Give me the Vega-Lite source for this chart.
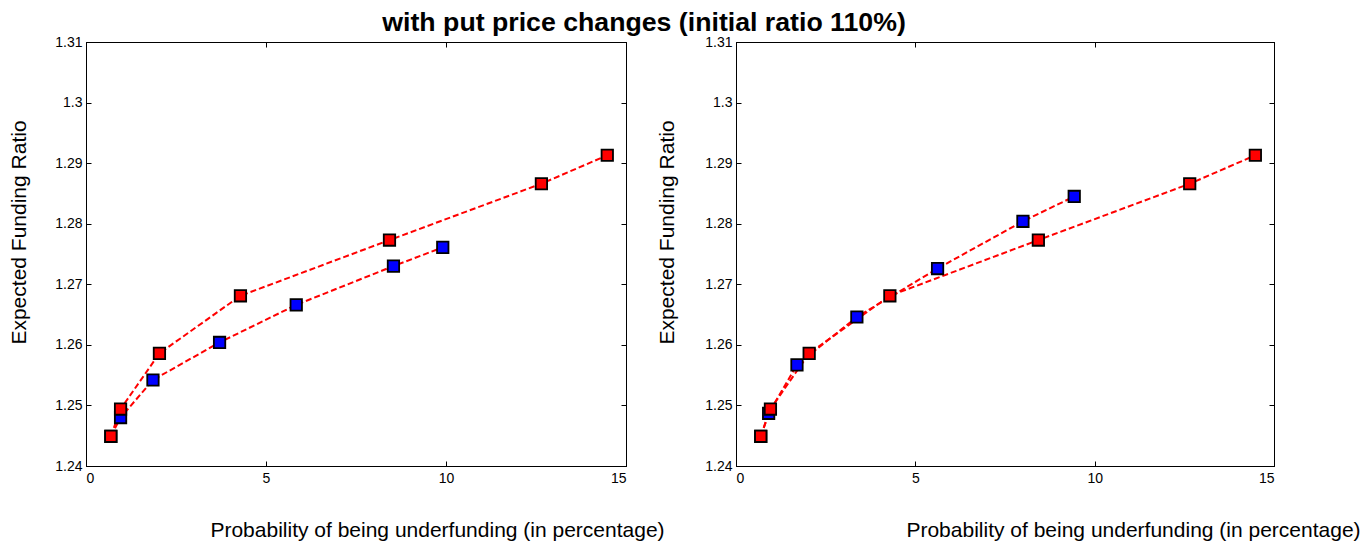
{
  "$schema": "https://vega.github.io/schema/vega-lite/v6.json",
  "autosize": {"type": "pad"},
  "padding": {"left": 7, "top": 9, "right": 0, "bottom": 0},
  "bounds": "flush",
  "spacing": 110,
  "background": "white",
  "title": {"text": "with put price changes (initial ratio 110%)", "font": "Liberation Sans", "fontSize": 26.7, "fontWeight": "bold", "color": "black", "anchor": "middle", "dx": -40, "offset": -2},
  "config": {
    "view": {"stroke": "black", "strokeWidth": 1},
    "axis": {"grid": false, "domainColor": "black", "tickColor": "black", "labelColor": "black", "titleColor": "black", "labelFont": "Liberation Sans", "titleFont": "Liberation Sans", "titleFontWeight": "normal"}
  },
  "datasets": {
    "pts": [
      {"panel": "L", "series": "blue", "idx": 1, "x": 0.69, "y": 1.2449},
      {"panel": "L", "series": "blue", "idx": 2, "x": 0.96, "y": 1.2480},
      {"panel": "L", "series": "blue", "idx": 3, "x": 1.86, "y": 1.2542},
      {"panel": "L", "series": "blue", "idx": 4, "x": 3.71, "y": 1.2604},
      {"panel": "L", "series": "blue", "idx": 5, "x": 5.84, "y": 1.2666},
      {"panel": "L", "series": "blue", "idx": 6, "x": 8.54, "y": 1.2730},
      {"panel": "L", "series": "blue", "idx": 7, "x": 9.91, "y": 1.2761},
      {"panel": "L", "series": "red", "idx": 1, "x": 0.69, "y": 1.2449},
      {"panel": "L", "series": "red", "idx": 2, "x": 0.96, "y": 1.2494},
      {"panel": "L", "series": "red", "idx": 3, "x": 2.04, "y": 1.2586},
      {"panel": "L", "series": "red", "idx": 4, "x": 4.29, "y": 1.2681},
      {"panel": "L", "series": "red", "idx": 5, "x": 8.43, "y": 1.2773},
      {"panel": "L", "series": "red", "idx": 6, "x": 12.65, "y": 1.2866},
      {"panel": "L", "series": "red", "idx": 7, "x": 14.48, "y": 1.2913},
      {"panel": "R", "series": "blue", "idx": 1, "x": 0.69, "y": 1.2449},
      {"panel": "R", "series": "blue", "idx": 2, "x": 0.91, "y": 1.2487},
      {"panel": "R", "series": "blue", "idx": 3, "x": 1.70, "y": 1.2567},
      {"panel": "R", "series": "blue", "idx": 4, "x": 3.37, "y": 1.2646},
      {"panel": "R", "series": "blue", "idx": 5, "x": 5.62, "y": 1.2726},
      {"panel": "R", "series": "blue", "idx": 6, "x": 8.00, "y": 1.2804},
      {"panel": "R", "series": "blue", "idx": 7, "x": 9.43, "y": 1.2845},
      {"panel": "R", "series": "red", "idx": 1, "x": 0.69, "y": 1.2449},
      {"panel": "R", "series": "red", "idx": 2, "x": 0.96, "y": 1.2494},
      {"panel": "R", "series": "red", "idx": 3, "x": 2.04, "y": 1.2586},
      {"panel": "R", "series": "red", "idx": 4, "x": 4.29, "y": 1.2681},
      {"panel": "R", "series": "red", "idx": 5, "x": 8.43, "y": 1.2773},
      {"panel": "R", "series": "red", "idx": 6, "x": 12.65, "y": 1.2866},
      {"panel": "R", "series": "red", "idx": 7, "x": 14.48, "y": 1.2913}
    ]
  },
  "hconcat": [
    {
      "width": 540,
      "height": 424,
      "data": {"name": "pts"},
      "transform": [{"filter": "datum.panel == 'L'"}],
      "resolve": {"axis": {"x": "independent", "y": "independent"}},
      "layer": [
        {
          "mark": {"type": "line", "color": "#ff0000", "strokeWidth": 2, "strokeDash": [6, 3]},
          "encoding": {
            "x": {"field": "x", "type": "quantitative", "scale": {"domain": [0, 15], "nice": false}, "axis": {"orient": "bottom", "values": [0, 5, 10, 15], "format": "d", "tickSize": -5, "labelPadding": 10, "labelFontSize": 14, "title": "Probability of being underfunding (in percentage)", "titleFontSize": 21, "titleX": 351, "titleY": 70, "titleBaseline": "alphabetic"}},
            "y": {"field": "y", "type": "quantitative", "scale": {"domain": [1.24, 1.31], "nice": false, "zero": false}, "axis": {"orient": "left", "values": [1.24, 1.25, 1.26, 1.27, 1.28, 1.29, 1.3, 1.31], "format": ".2~f", "tickSize": -5, "labelPadding": 9, "labelFontSize": 14, "title": "Expected Funding Ratio", "titleFontSize": 21, "titleX": -67, "titleY": 190, "titleBaseline": "middle"}},
            "detail": {"field": "series"},
            "order": {"field": "idx"}
          }
        },
        {
          "mark": {"type": "point", "shape": "square", "filled": true, "size": 130, "stroke": "black", "strokeWidth": 1.8, "opacity": 1},
          "encoding": {
            "x": {"field": "x", "type": "quantitative", "axis": {"orient": "top", "values": [0, 5, 10, 15], "tickSize": -5, "labels": false, "title": null}},
            "y": {"field": "y", "type": "quantitative", "axis": {"orient": "right", "values": [1.24, 1.25, 1.26, 1.27, 1.28, 1.29, 1.3, 1.31], "tickSize": -5, "labels": false, "title": null}},
            "color": {"field": "series", "type": "nominal", "scale": {"domain": ["blue", "red"], "range": ["#0000ff", "#ff0000"]}, "legend": null}
          }
        }
      ]
    },
    {
      "width": 538,
      "height": 424,
      "data": {"name": "pts"},
      "transform": [{"filter": "datum.panel == 'R'"}],
      "resolve": {"axis": {"x": "independent", "y": "independent"}},
      "layer": [
        {
          "mark": {"type": "line", "color": "#ff0000", "strokeWidth": 2, "strokeDash": [6, 3]},
          "encoding": {
            "x": {"field": "x", "type": "quantitative", "scale": {"domain": [0, 15], "nice": false}, "axis": {"orient": "bottom", "values": [0, 5, 10, 15], "format": "d", "tickSize": -5, "labelPadding": 10, "labelFontSize": 14, "title": "Probability of being underfunding (in percentage)", "titleFontSize": 21, "titleX": 397, "titleY": 70, "titleBaseline": "alphabetic"}},
            "y": {"field": "y", "type": "quantitative", "scale": {"domain": [1.24, 1.31], "nice": false, "zero": false}, "axis": {"orient": "left", "values": [1.24, 1.25, 1.26, 1.27, 1.28, 1.29, 1.3, 1.31], "format": ".2~f", "tickSize": -5, "labelPadding": 9, "labelFontSize": 14, "title": "Expected Funding Ratio", "titleFontSize": 21, "titleX": -69, "titleY": 190, "titleBaseline": "middle"}},
            "detail": {"field": "series"},
            "order": {"field": "idx"}
          }
        },
        {
          "mark": {"type": "point", "shape": "square", "filled": true, "size": 130, "stroke": "black", "strokeWidth": 1.8, "opacity": 1},
          "encoding": {
            "x": {"field": "x", "type": "quantitative", "axis": {"orient": "top", "values": [0, 5, 10, 15], "tickSize": -5, "labels": false, "title": null}},
            "y": {"field": "y", "type": "quantitative", "axis": {"orient": "right", "values": [1.24, 1.25, 1.26, 1.27, 1.28, 1.29, 1.3, 1.31], "tickSize": -5, "labels": false, "title": null}},
            "color": {"field": "series", "type": "nominal", "scale": {"domain": ["blue", "red"], "range": ["#0000ff", "#ff0000"]}, "legend": null}
          }
        }
      ]
    }
  ]
}
